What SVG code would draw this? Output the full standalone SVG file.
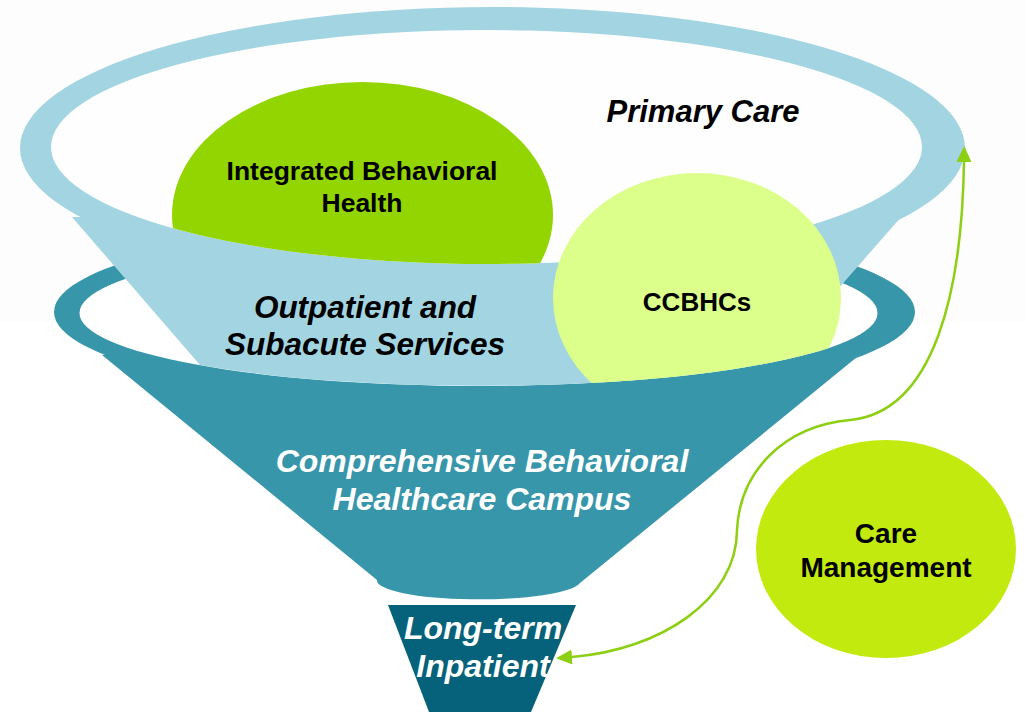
<svg xmlns="http://www.w3.org/2000/svg" width="1026" height="712" viewBox="0 0 1026 712">
<defs>
<style>
.t{font-family:"Liberation Sans",Arial,sans-serif;font-weight:bold;text-anchor:middle}
.i{font-style:italic}
.w{fill:#ffffff}
.k{fill:#000000}
.conn{fill:none;stroke:#8dcf12;stroke-width:2.5}
</style>
<marker id="ah" viewBox="0 0 16 15" refX="0" refY="7.5" markerWidth="16" markerHeight="15" markerUnits="userSpaceOnUse" orient="auto-start-reverse">
<path d="M0,0 L16,7.5 L0,15 Z" fill="#8dcf12"/>
</marker>
<clipPath id="innerTop">
<ellipse cx="486.5" cy="147" rx="435.5" ry="117"/>
</clipPath>
<clipPath id="aboveFront">
<path d="M0,0 H1026 V313 H877.5 A399,73 0 0 1 79.5,313 H0 Z"/>
</clipPath>
</defs>
<rect width="1026" height="712" fill="#ffffff"/>
<rect width="1026" height="322" fill="#fdfdfd"/>

<g id="campus">
<ellipse cx="484.5" cy="312" rx="430.5" ry="91" fill="#3896aa"/>
<path d="M102,355 L377,580 A102,19 0 0 0 580,583 L857,357 Z" fill="#3896aa"/>
<ellipse cx="478.5" cy="313" rx="399" ry="73" fill="#ffffff"/>
<text class="t i w" x="482" y="472" font-size="32">Comprehensive Behavioral</text>
<text class="t i w" x="482" y="510" font-size="32">Healthcare Campus</text>
</g>

<g id="primary-care">
<ellipse cx="492.5" cy="148" rx="472.5" ry="141" fill="#a2d5e1"/>
</g>

<g id="outpatient">
<path d="M72,217 L200,365 A399,73 0 0 0 774,362 L902,216 Z" fill="#a2d5e1"/>
</g>

<g id="primary-care-inner">
<ellipse cx="486.5" cy="147" rx="435.5" ry="117" fill="#fefefe"/>
<text class="t i k" x="703" y="122" font-size="31">Primary Care</text>
</g>

<g id="ibh">
<ellipse cx="362.5" cy="215" rx="190.5" ry="133" fill="#93d500" clip-path="url(#innerTop)"/>
<text class="t k" x="362" y="180" font-size="26.5">Integrated Behavioral</text>
<text class="t k" x="362" y="212" font-size="26.5">Health</text>
</g>

<g id="outpatient-label">
<text class="t i k" x="365" y="318" font-size="31.5">Outpatient and</text>
<text class="t i k" x="365" y="355" font-size="31.5">Subacute Services</text>
</g>

<g id="ccbhcs">
<ellipse cx="697" cy="298" rx="144" ry="125" fill="#dbff8a" clip-path="url(#aboveFront)"/>
<text class="t k" x="697" y="311" font-size="26">CCBHCs</text>
</g>

<g id="long-term">
<path d="M388,605 L576,605 L531,712 L429,712 Z" fill="#05627a"/>
<text class="t i w" x="483" y="639" font-size="32">Long-term</text>
<text class="t i w" x="483" y="677" font-size="32">Inpatient</text>
</g>

<g id="care-management">
<ellipse cx="886" cy="549" rx="130" ry="109" fill="#c2ea0e"/>
<text class="t k" x="886" y="543" font-size="28">Care</text>
<text class="t k" x="886" y="577" font-size="28">Management</text>
</g>

<g id="connectors">
<path class="conn" d="M964,162 C962,290 935,412 850,420 C785,426 740,470 737,530 C737,600 660,650 572,657" marker-start="url(#ah)" marker-end="url(#ah)"/>
</g>
</svg>
